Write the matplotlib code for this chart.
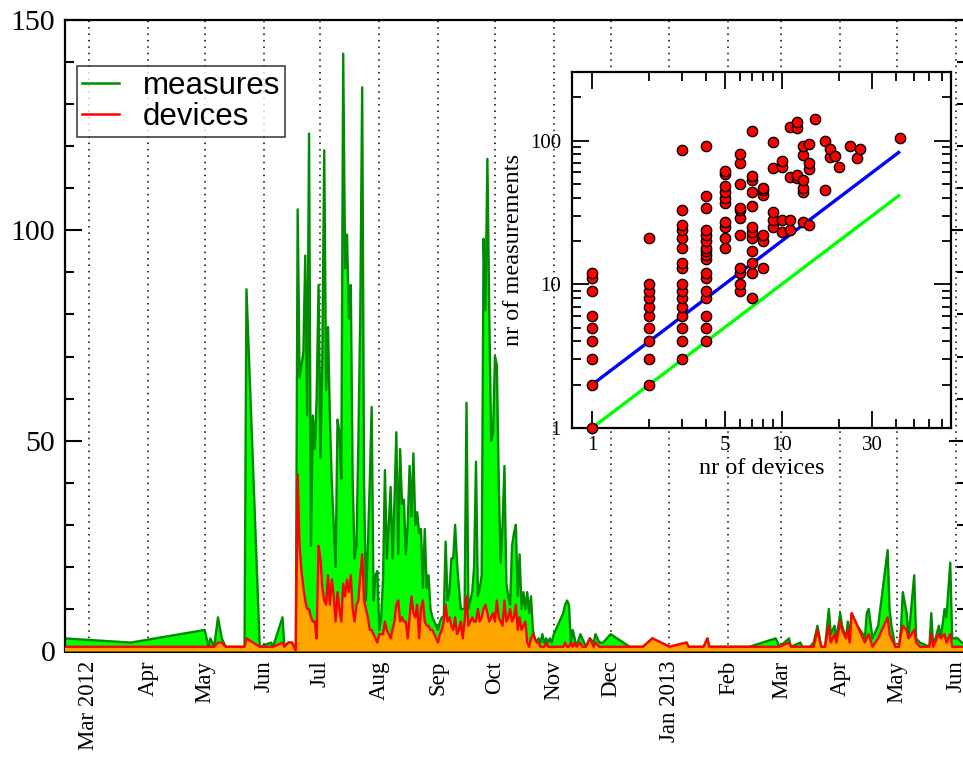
import datetime as dt
import numpy as np
import matplotlib
matplotlib.use("Agg")
import matplotlib.pyplot as plt
import matplotlib.dates as mdates
from matplotlib.ticker import FixedLocator, FixedFormatter, NullFormatter
from matplotlib.lines import Line2D

# ---------------- main time series (daily counts) ----------------
early_dates = ["2012-02-17", "2012-03-23", "2012-05-01", "2012-05-03", "2012-05-04",
               "2012-05-06", "2012-05-08", "2012-05-10", "2012-05-12", "2012-05-22",
               "2012-05-23", "2012-05-30", "2012-06-05", "2012-06-06", "2012-06-11",
               "2012-06-12", "2012-06-14", "2012-06-16", "2012-06-18"]
early_measures = [3, 2, 5, 1, 3, 1, 8, 3, 1, 1, 86, 1, 2, 1, 8, 1, 2, 2, 0]
early_devices = [1, 1, 1, 1, 1, 1, 2, 2, 1, 1, 3, 1, 1, 1, 2, 1, 2, 2, 0]

summer_start = "2012-06-19"   # consecutive days from here
summer_measures = [
    105, 65, 68, 71, 94, 56, 123, 25, 56, 48,
    60, 87, 46, 70, 119, 62, 77, 55, 40, 30,
    20, 55, 52, 41, 142, 91, 99, 79, 87, 40,
    22, 25, 50, 80, 134, 40, 12, 25, 40, 58,
    12, 18, 19, 5, 8, 17, 43, 22, 30, 39,
    22, 35, 52, 23, 48, 35, 36, 23, 30, 44,
    32, 47, 30, 33, 28,
    29, 15, 29, 15, 18, 10, 8, 7, 6, 5,
    7, 8, 8, 26, 12, 14, 22, 22, 30, 21,
    15, 10, 10, 10, 59, 10, 12, 14, 20, 45,
    13, 15, 18, 98, 81, 117, 80, 50, 52, 70,
    68, 40, 21, 30, 44, 16, 13, 11, 25, 28,
    30, 13, 23, 10, 14, 10, 14, 9, 13, 5,
    3, 2,
    3, 2, 4, 2, 3, 2, 3, 2]
summer_devices = [
    42, 25, 19, 15, 12, 10, 10, 8, 7, 7,
    3, 25, 22, 15, 12, 11, 18, 11, 17, 13,
    7, 14, 10, 7, 16, 13, 17, 14, 18, 10,
    7, 11, 12, 18, 23, 12, 10, 8, 5, 5,
    4, 3, 2, 4, 4, 4, 7, 5, 4, 3,
    5, 7, 11, 12, 7, 8, 7, 7, 3, 8,
    13, 9, 8, 11, 3,
    10, 12, 7, 6, 6, 5, 5, 4, 3, 2,
    4, 5, 7, 11, 7, 8, 6, 5, 8, 4,
    5, 7, 3, 7, 13, 6, 7, 8, 7, 7,
    10, 7, 8, 10, 11, 9, 7, 8, 9, 7,
    12, 8, 7, 6, 12, 7, 8, 10, 7, 8,
    11, 5, 8, 5, 6, 7, 2, 1, 3, 4,
    3, 2,
    2, 1, 1, 1, 2, 1, 1, 1]

late_dates = ["2012-11-01", "2012-11-06", "2012-11-07", "2012-11-08", "2012-11-09",
              "2012-11-10", "2012-11-11", "2012-11-12", "2012-11-13", "2012-11-15",
              "2012-11-16", "2012-11-18", "2012-11-19", "2012-11-20", "2012-11-22",
              "2012-11-23", "2012-11-25", "2012-11-27", "2012-12-01", "2012-12-11",
              "2012-12-18", "2012-12-23", "2013-01-01", "2013-01-10", "2013-01-11",
              "2013-01-19", "2013-01-21", "2013-01-22", "2013-02-12", "2013-02-26",
              "2013-02-28", "2013-03-05", "2013-03-06", "2013-03-11", "2013-03-12",
              "2013-03-16", "2013-03-18", "2013-03-20", "2013-03-22", "2013-03-24",
              "2013-03-26", "2013-03-27", "2013-03-29", "2013-03-30", "2013-04-01",
              "2013-04-02", "2013-04-04", "2013-04-05", "2013-04-06", "2013-04-07",
              "2013-04-10", "2013-04-13", "2013-04-14", "2013-04-15", "2013-04-16",
              "2013-04-18", "2013-04-21", "2013-04-26", "2013-04-27", "2013-04-28",
              "2013-04-30", "2013-05-02", "2013-05-03", "2013-05-04", "2013-05-06",
              "2013-05-07", "2013-05-10", "2013-05-11", "2013-05-13", "2013-05-18",
              "2013-05-19", "2013-05-20", "2013-05-23", "2013-05-24", "2013-05-26",
              "2013-05-27", "2013-05-29", "2013-05-30", "2013-06-02", "2013-06-04",
              "2013-06-06", "2013-06-07"]
late_measures = [4, 9, 11, 12, 11, 2, 5, 3, 1, 4,
                 3, 1, 2, 3, 2, 4, 2, 2, 4, 1,
                 1, 3, 1, 2, 1, 1, 3, 1, 1, 3,
                 1, 3, 1, 2, 1, 1, 2, 6, 1, 1,
                 10, 4, 6, 3, 9, 6, 3, 7, 3, 9,
                 6, 4, 3, 9, 10, 3, 6, 24, 10, 6,
                 1, 1, 5, 14, 9, 3, 18, 3, 2, 1,
                 9, 1, 6, 3, 10, 8, 21, 3, 3, 2,
                 2, 7]
late_devices = [1, 1, 2, 1, 1, 2, 1, 2, 1, 2,
                1, 1, 2, 3, 1, 2, 1, 1, 1, 1,
                1, 3, 1, 2, 1, 1, 3, 1, 1, 1,
                1, 2, 1, 1, 1, 1, 1, 5, 1, 1,
                6, 2, 4, 2, 7, 5, 3, 5, 2, 9,
                6, 3, 2, 3, 4, 1, 3, 8, 4, 3,
                1, 1, 4, 6, 5, 3, 5, 2, 1, 1,
                4, 1, 4, 3, 4, 2, 4, 1, 1, 1,
                1, 4]

month_ticks = ["2012-03-01", "2012-04-01", "2012-05-01", "2012-06-01", "2012-07-01",
               "2012-08-01", "2012-09-01", "2012-10-01", "2012-11-01", "2012-12-01",
               "2013-01-01", "2013-02-01", "2013-03-01", "2013-04-01", "2013-05-01",
               "2013-06-01"]
month_labels = ["Mar 2012", "Apr", "May", "Jun", "Jul", "Aug", "Sep", "Oct", "Nov",
                "Dec", "Jan 2013", "Feb", "Mar", "Apr", "May", "Jun"]

# ---------------- inset scatter: (nr of devices, nr of measurements) ----------------
inset_device_counts = [1, 2, 3, 4, 5, 6, 7, 8, 9, 10, 11, 12, 13, 14, 15, 17, 18,
                       19, 20, 23, 25, 26, 42]
inset_measure_groups = [
    [1, 2, 3, 4, 5, 6, 9, 11, 12],
    [2, 3, 4, 5, 6, 7, 8, 9, 10, 21],
    [3, 4, 5, 6, 7, 8, 9, 10, 13, 14, 18, 21, 24, 26, 33, 86],
    [4, 5, 6, 8, 9, 11, 12, 15, 16, 17, 18, 20, 22, 24, 34, 41, 91],
    [18, 21, 25, 27, 37, 40, 44, 48, 59, 61],
    [9, 10, 12, 13, 22, 29, 33, 34, 50, 70, 80],
    [8, 12, 14, 17, 21, 23, 25, 35, 44, 53, 57, 117],
    [13, 20, 22, 42, 45, 47],
    [25, 28, 32, 64, 98],
    [23, 28, 65, 72],
    [24, 28, 56, 124],
    [55, 58, 122, 135],
    [27, 44, 47, 53, 79, 92],
    [26, 63, 70, 95],
    [142],
    [45, 99],
    [77, 88],
    [78],
    [65],
    [91],
    [76],
    [87],
    [105],
]
fit_x = [1, 42]
fit_upper = [2, 84]   # measurements = 2 x devices
fit_lower = [1, 42]   # measurements = devices

# ---------------- assemble data ----------------
def to_dt(s):
    return dt.datetime.strptime(s, "%Y-%m-%d")

s0 = to_dt(summer_start)
summer_dates = [s0 + dt.timedelta(days=i) for i in range(len(summer_measures))]
all_dates = [to_dt(s) for s in early_dates] + summer_dates + [to_dt(s) for s in late_dates]
all_meas = np.array(early_measures + summer_measures + late_measures, float)
all_dev = np.array(early_devices + summer_devices + late_devices, float)
x = mdates.date2num(all_dates)

serif = ["Liberation Serif", "DejaVu Serif"]
sans = ["Liberation Sans", "DejaVu Sans"]

fig = plt.figure(figsize=(9.63, 7.57), dpi=100)
W, H = 963.0, 757.0
ax = fig.add_axes([65 / W, (H - 651) / H, (966 - 65) / W, (651 - 20) / H])

mar1 = dt.datetime(2012, 3, 1)
ax.set_xlim(mdates.date2num(mar1 - dt.timedelta(days=12.65)),
            mdates.date2num(mar1 + dt.timedelta(days=462.3)))
ax.set_ylim(0, 150)

# gridlines at month starts
tick_x = mdates.date2num([to_dt(s) for s in month_ticks])
for tx in tick_x:
    ax.axvline(tx, color="black", lw=1.1, ls=(0, (1, 3.2)), zorder=0.5)

ax.fill_between(x, all_meas, 0, color="#00ff00", lw=0, zorder=1)
ax.plot(x, all_meas, color="#008c00", lw=1.7, zorder=2)
ax.fill_between(x, all_dev, 0, color="#ffa500", lw=0, zorder=3)
ax.plot(x, all_dev, color="#ff0000", lw=1.7, zorder=4)

ax.xaxis.set_major_locator(FixedLocator(tick_x))
ax.xaxis.set_major_formatter(FixedFormatter(month_labels))
ax.tick_params(axis="x", which="major", length=0, pad=7, labelsize=16.5,
               labelrotation=90)
for lab in ax.get_xticklabels():
    lab.set_family(serif)

ax.yaxis.set_major_locator(FixedLocator([0, 50, 100, 150]))
ax.yaxis.set_minor_locator(FixedLocator(np.arange(0, 151, 10)))
ax.tick_params(axis="y", which="both", direction="in", left=True, right=True,
               width=1.5)
ax.tick_params(axis="y", which="major", length=12.5, pad=7, labelsize=21.5)
ax.tick_params(axis="y", which="minor", length=6.5)
for lab in ax.get_yticklabels():
    lab.set_family(serif)
for sp in ax.spines.values():
    sp.set_linewidth(1.6)
ax.spines["bottom"].set_linewidth(2.2)

handles = [Line2D([], [], color="#008c00", lw=1.8),
           Line2D([], [], color="#ff0000", lw=1.8)]
leg = ax.legend(handles, ["measures", "devices"], loc="upper left",
                bbox_to_anchor=((77 - 65) / 901, (651 - 66) / 631),
                prop={"family": sans, "size": 22.5}, frameon=True, fancybox=False,
                shadow=False, borderpad=0.15, labelspacing=0.05, handlelength=1.2,
                handletextpad=0.75, borderaxespad=0.0)
leg.get_frame().set_edgecolor("black")
leg.get_frame().set_linewidth(1.1)

# ---------------- inset ----------------
ins = fig.add_axes([572 / W, (H - 428) / H, (951 - 572) / W, (428 - 72) / H])
ins.set_facecolor("white")
ins.set_xscale("log")
ins.set_yscale("log")
ins.set_xlim(0.785, 78)
ins.set_ylim(1, 300)

ins.plot(fit_x, fit_upper, color="#0000ff", lw=2.4, zorder=2, solid_capstyle="butt")
ins.plot(fit_x, fit_lower, color="#00ff00", lw=2.4, zorder=2, solid_capstyle="butt")
sx, sy = [], []
for d, grp in zip(inset_device_counts, inset_measure_groups):
    for m in grp:
        sx.append(d)
        sy.append(m)
ins.scatter(sx, sy, s=55, facecolor="#ff0000", edgecolor="black", linewidth=1.0,
            zorder=3, clip_on=False)

ins.xaxis.set_major_locator(FixedLocator([1, 5, 10, 30]))
ins.xaxis.set_major_formatter(FixedFormatter(["1", "5", "10", "30"]))
ins.xaxis.set_minor_locator(FixedLocator([2, 3, 4, 6, 7, 8, 9, 20, 40, 50, 60, 70]))
ins.xaxis.set_minor_formatter(NullFormatter())
ins.yaxis.set_major_locator(FixedLocator([1, 10, 100]))
ins.yaxis.set_major_formatter(FixedFormatter(["1", "10", "100"]))
ins.yaxis.set_minor_locator(FixedLocator([2, 3, 4, 5, 6, 7, 8, 9, 20, 30, 40, 50, 60,
                                          70, 80, 90, 200, 300]))
ins.yaxis.set_minor_formatter(NullFormatter())
ins.tick_params(which="both", direction="in", top=True, right=True, width=1.3)
ins.tick_params(which="major", length=12.5, labelsize=15)
ins.tick_params(axis="x", which="major", pad=6)
ins.tick_params(axis="y", which="major", pad=8)
ins.tick_params(which="minor", length=6.5)
for lab in ins.get_xticklabels() + ins.get_yticklabels():
    lab.set_family(serif)
for sp in ins.spines.values():
    sp.set_linewidth(1.6)
ins.set_xlabel("nr of devices", family=serif, fontsize=17.5, labelpad=2)
ins.set_ylabel("nr of measurements", family=serif, fontsize=17.5, labelpad=4)

fig.savefig("out.png", dpi=100)
